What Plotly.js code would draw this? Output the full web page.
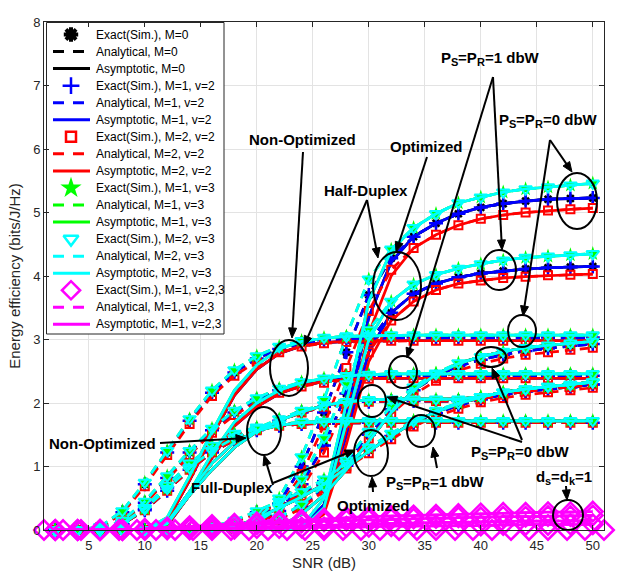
<!DOCTYPE html>
<html><head><meta charset="utf-8">
<script src="https://cdn.plot.ly/plotly-3.0.1.min.js"></script>
<style>body{margin:0;background:#fff}#chart{width:622px;height:579px}</style>
</head><body><div id="chart"></div>
<script>
// ---------------- DATA (energy efficiency in units of 1e-4 bits/J/Hz) ----------------
const SNR = [2,4,6,8,10,12,14,16,18,20,22,24,26,28,30,32,34,36,38,40,42,44,46,48,50];

// Half-Duplex, Optimized (upper family)
const hdOptA_top  = [0,0,0,0,0,0,0,0.02,0.06,0.18,0.5,1.15,2.05,3.05,3.95,4.42,4.76,4.98,5.15,5.24,5.32,5.37,5.40,5.43,5.46];
const hdOptA_blue = [0,0,0,0,0,0,0,0.01,0.05,0.15,0.42,1.0,1.85,2.8,3.7,4.28,4.62,4.83,4.98,5.08,5.14,5.18,5.21,5.22,5.23];
const hdOptA_red  = [0,0,0,0,0,0,0,0.01,0.04,0.12,0.35,0.88,1.65,2.55,3.45,4.1,4.44,4.65,4.8,4.9,4.96,5.0,5.03,5.05,5.07];
const hdOptA_asTop  = [0,0,0,0,0,0,0,0,0,0,0,0.05,0.5,2.0,3.6,4.4,4.76,4.98,5.15,5.24,5.32,5.37,5.40,5.43,5.46];
const hdOptA_asBlue = [0,0,0,0,0,0,0,0,0,0,0,0.03,0.4,1.8,3.35,4.22,4.62,4.83,4.98,5.08,5.14,5.18,5.21,5.22,5.23];
const hdOptA_asRed  = [0,0,0,0,0,0,0,0,0,0,0,0.02,0.3,1.6,3.1,4.0,4.44,4.65,4.8,4.9,4.96,5.0,5.03,5.05,5.07];
// Half-Duplex, Optimized (lower family)
const hdOptB_top  = [0,0,0,0,0,0,0,0.01,0.04,0.12,0.35,0.8,1.45,2.3,3.15,3.6,3.87,4.02,4.12,4.19,4.25,4.29,4.31,4.33,4.35];
const hdOptB_blue = [0,0,0,0,0,0,0,0.01,0.03,0.1,0.3,0.72,1.33,2.15,2.95,3.42,3.72,3.88,3.98,4.04,4.08,4.11,4.13,4.14,4.15];
const hdOptB_red  = [0,0,0,0,0,0,0,0.01,0.03,0.09,0.27,0.65,1.22,2.0,2.8,3.3,3.6,3.78,3.88,3.93,3.97,3.99,4.01,4.02,4.03];
const hdOptB_asTop  = [0,0,0,0,0,0,0,0,0,0,0,0.02,0.35,1.7,3.0,3.6,3.87,4.02,4.12,4.19,4.25,4.29,4.31,4.33,4.35];
const hdOptB_asBlue = [0,0,0,0,0,0,0,0,0,0,0,0.02,0.3,1.5,2.8,3.42,3.72,3.88,3.98,4.04,4.08,4.11,4.13,4.14,4.15];
const hdOptB_asRed  = [0,0,0,0,0,0,0,0,0,0,0,0.01,0.25,1.35,2.65,3.3,3.6,3.78,3.88,3.93,3.97,3.99,4.01,4.02,4.03];
// Half-Duplex, Non-Optimized (two power levels)
const hdNon1_top  = [0,0,0.05,0.3,0.75,1.25,1.75,2.2,2.52,2.74,2.89,2.98,3.03,3.05,3.06,3.07,3.07,3.07,3.07,3.07,3.07,3.07,3.07,3.07,3.07];
const hdNon1_blue = [0,0,0.04,0.28,0.72,1.22,1.72,2.16,2.48,2.7,2.85,2.94,2.99,3.01,3.02,3.03,3.03,3.03,3.03,3.03,3.03,3.03,3.03,3.03,3.03];
const hdNon1_red  = [0,0,0.04,0.26,0.69,1.18,1.67,2.11,2.43,2.65,2.8,2.89,2.94,2.96,2.97,2.98,2.98,2.98,2.98,2.98,2.98,2.98,2.98,2.98,2.98];
const hdNon1_asTop = [0,0,0,0,0,0.2,0.85,1.55,2.2,2.6,2.85,2.97,3.02,3.05,3.06,3.07,3.07,3.07,3.07,3.07,3.07,3.07,3.07,3.07,3.07];
const hdNon1_asLow = [0,0,0,0,0,0.15,0.78,1.48,2.12,2.53,2.78,2.9,2.95,2.97,2.98,2.98,2.98,2.98,2.98,2.98,2.98,2.98,2.98,2.98,2.98];
const hdNon2_top  = [0,0,0.02,0.15,0.45,0.85,1.25,1.6,1.88,2.08,2.23,2.33,2.39,2.43,2.45,2.46,2.46,2.46,2.46,2.46,2.46,2.46,2.46,2.46,2.46];
const hdNon2_blue = [0,0,0.02,0.14,0.43,0.82,1.22,1.57,1.85,2.05,2.2,2.3,2.36,2.4,2.42,2.43,2.43,2.43,2.43,2.43,2.43,2.43,2.43,2.43,2.43];
const hdNon2_red  = [0,0,0.01,0.13,0.41,0.79,1.18,1.53,1.81,2.01,2.16,2.26,2.32,2.36,2.38,2.39,2.39,2.39,2.39,2.39,2.39,2.39,2.39,2.39,2.39];
const hdNon2_asTop = [0,0,0,0,0,0.1,0.6,1.2,1.7,2.0,2.2,2.32,2.39,2.43,2.45,2.46,2.46,2.46,2.46,2.46,2.46,2.46,2.46,2.46,2.46];
const hdNon2_asLow = [0,0,0,0,0,0.07,0.55,1.14,1.64,1.94,2.15,2.27,2.34,2.37,2.39,2.39,2.39,2.39,2.39,2.39,2.39,2.39,2.39,2.39,2.39];
// Full-Duplex, Non-Optimized (two power levels); the upper one joins the optimized curve near 38 dB
const fdNon1_top  = [0,0,0.01,0.1,0.33,0.65,0.98,1.25,1.45,1.6,1.75,1.88,1.97,2.02,2.05,2.06,2.06,2.06,2.06,2.1,2.17,2.22,2.26,2.29,2.33];
const fdNon1_low  = [0,0,0.01,0.09,0.31,0.62,0.95,1.22,1.42,1.57,1.72,1.85,1.94,1.99,2.02,2.03,2.03,2.03,2.03,2.06,2.13,2.18,2.22,2.25,2.29];
const fdNon1_as   = [0,0,0,0,0,0.1,0.55,0.95,1.3,1.55,1.72,1.86,1.96,2.02,2.05,2.06,2.06,2.06,2.06,2.1,2.17,2.22,2.26,2.29,2.33];
const fdNon2_top  = [0,0,0.01,0.1,0.35,0.7,1.05,1.33,1.52,1.62,1.67,1.70,1.71,1.72,1.72,1.72,1.72,1.72,1.72,1.72,1.72,1.72,1.72,1.72,1.72];
const fdNon2_low  = [0,0,0.01,0.09,0.33,0.67,1.02,1.3,1.49,1.59,1.64,1.67,1.68,1.69,1.69,1.69,1.69,1.69,1.69,1.69,1.69,1.69,1.69,1.69,1.69];
const fdNon2_as   = [0,0,0,0,0,0.12,0.6,1.05,1.38,1.56,1.65,1.69,1.71,1.72,1.72,1.72,1.72,1.72,1.72,1.72,1.72,1.72,1.72,1.72,1.72];
// Full-Duplex, Optimized (two power levels)
const fdOpt1_top  = [0,0,0,0,0,0,0,0,0.02,0.08,0.2,0.4,0.7,1.1,1.55,1.95,2.25,2.47,2.63,2.73,2.81,2.87,2.91,2.94,2.97];
const fdOpt1_blue = [0,0,0,0,0,0,0,0,0.02,0.07,0.18,0.37,0.66,1.05,1.5,1.9,2.2,2.42,2.58,2.68,2.76,2.82,2.86,2.9,2.93];
const fdOpt1_red  = [0,0,0,0,0,0,0,0,0.01,0.06,0.16,0.34,0.62,1.0,1.44,1.83,2.13,2.35,2.51,2.62,2.7,2.76,2.8,2.84,2.87];
const fdOpt1_as   = [0,0,0,0,0,0,0,0,0,0,0.05,0.25,0.55,0.95,1.4,1.85,2.2,2.45,2.62,2.73,2.81,2.87,2.91,2.94,2.97];
const fdOpt2_top  = [0,0,0,0,0,0,0,0.05,0.15,0.3,0.45,0.6,0.8,1.05,1.3,1.52,1.72,1.88,2.0,2.1,2.17,2.22,2.26,2.29,2.33];
const fdOpt2_blue = [0,0,0,0,0,0,0,0.04,0.13,0.28,0.42,0.57,0.77,1.01,1.26,1.48,1.68,1.84,1.96,2.06,2.13,2.18,2.22,2.25,2.29];
const fdOpt2_red  = [0,0,0,0,0,0,0,0.04,0.12,0.26,0.4,0.54,0.73,0.97,1.21,1.43,1.63,1.79,1.91,2.01,2.08,2.13,2.17,2.2,2.24];
const fdOpt2_as   = [0,0,0,0,0,0,0,0,0.05,0.18,0.35,0.52,0.72,0.98,1.24,1.48,1.7,1.86,1.99,2.09,2.17,2.22,2.26,2.29,2.33];
// M=1, v=2,3 (d_s=d_k=1): close to zero
const magSNR   = [1,2.7,4.3,6,7.7,9.3,11,12.7,14.3,16,17.7,19.3,21,22.7,24.3,26,27.7,29.3,31,32.7,34.3,36,37.7,39.3,41,42.7,44.3,46,47.7,49.3,51];
const magExact = [0,0,0,0,0,0,0,0,0,0,0,0,0,0,0,0,0,0,0,0,0,0,0,0,0,0,0,0,0,0,0];
const magHigh  = [0,0,0,0,0.02,0.04,0.06,0.08,0.1,0.12,0.14,0.16,0.18,0.2,0.21,0.22,0.23,0.24,0.25,0.26,0.27,0.27,0.28,0.28,0.29];
const magMid1  = [0,0,0,0,0.01,0.03,0.05,0.06,0.08,0.09,0.11,0.12,0.14,0.15,0.16,0.17,0.18,0.19,0.2,0.2,0.21,0.21,0.22,0.22,0.23];
const magMid2  = [0,0,0,0,0,0.01,0.02,0.03,0.04,0.05,0.06,0.07,0.08,0.09,0.1,0.11,0.11,0.12,0.12,0.13,0.13,0.14,0.14,0.15,0.15];
const magLow   = [0,0,0,0,0,0.01,0.01,0.02,0.02,0.03,0.03,0.04,0.04,0.05,0.05,0.06,0.06,0.07,0.07,0.07,0.08,0.08,0.08,0.09,0.09];

const legendLabels = ['Exact(Sim.), M=0','Analytical, M=0','Asymptotic, M=0',
 'Exact(Sim.), M=1, v=2','Analytical, M=1, v=2','Asymptotic, M=1, v=2',
 'Exact(Sim.), M=2, v=2','Analytical, M=2, v=2','Asymptotic, M=2, v=2',
 'Exact(Sim.), M=1, v=3','Analytical, M=1, v=3','Asymptotic, M=1, v=3',
 'Exact(Sim.), M=2, v=3','Analytical, M=2, v=3','Asymptotic, M=2, v=3',
 'Exact(Sim.), M=1, v=2,3','Analytical, M=1, v=2,3','Asymptotic, M=1, v=2,3'];
const xTicks = [5,10,15,20,25,30,35,40,45,50];
const yTicks = [0,1,2,3,4,5,6,7,8];

// ---------------- STYLE ----------------
const FONT = '"Liberation Sans", Arial, Helvetica, sans-serif';
const families = [
 {top:hdOptA_top, blue:hdOptA_blue, red:hdOptA_red, asTop:hdOptA_asTop, asBlue:hdOptA_asBlue, asRed:hdOptA_asRed},
 {top:hdOptB_top, blue:hdOptB_blue, red:hdOptB_red, asTop:hdOptB_asTop, asBlue:hdOptB_asBlue, asRed:hdOptB_asRed},
 {top:hdNon1_top, blue:hdNon1_blue, red:hdNon1_red, asTop:hdNon1_asTop, asBlue:hdNon1_asLow, asRed:hdNon1_asLow},
 {top:hdNon2_top, blue:hdNon2_blue, red:hdNon2_red, asTop:hdNon2_asTop, asBlue:hdNon2_asLow, asRed:hdNon2_asLow},
 {top:fdNon1_top, blue:fdNon1_low, red:fdNon1_low, asTop:fdNon1_as, asBlue:fdNon1_as, asRed:fdNon1_as},
 {top:fdNon2_top, blue:fdNon2_low, red:fdNon2_low, asTop:fdNon2_as, asBlue:fdNon2_as, asRed:fdNon2_as},
 {top:fdOpt1_top, blue:fdOpt1_blue, red:fdOpt1_red, asTop:fdOpt1_as, asBlue:fdOpt1_as, asRed:fdOpt1_as},
 {top:fdOpt2_top, blue:fdOpt2_blue, red:fdOpt2_red, asTop:fdOpt2_as, asBlue:fdOpt2_as, asRed:fdOpt2_as}
];
const groups = [
 {key:'blue', asKey:'asBlue', color:'#000000', symbol:'asterisk-open', size:8, lw:2.5},
 {key:'blue', asKey:'asBlue', color:'#0000ff', symbol:'cross-thin-open', size:10, lw:2.5},
 {key:'red',  asKey:'asRed',  color:'#ff0000', symbol:'square-open', size:8, lw:2},
 {key:'top',  asKey:'asTop',  color:'#00ff00', symbol:'star', size:11, lw:0},
 {key:'top',  asKey:'asTop',  color:'#00ffff', symbol:'triangle-down-open', size:11, lw:2}
];
const LW = 2.7, DASH = '9px,6px';
const traces = [];
function lineT(x, y, color, dash){
  return {type:'scatter', mode:'lines', x:x, y:y, line:{color:color, width:LW, dash:dash},
          hoverinfo:'skip', showlegend:false};
}
function markT(x, y, g){
  return {type:'scatter', mode:'markers', x:x, y:y, cliponaxis:false, hoverinfo:'skip', showlegend:false,
          marker:{symbol:g.symbol, size:g.size, color:g.color, line:{color:g.color, width:g.lw}}};
}
groups.forEach(g => {
  families.forEach(f => traces.push(lineT(SNR, f[g.asKey], g.color, 'solid')));
  families.forEach(f => traces.push(lineT(SNR, f[g.key], g.color, DASH)));
  families.forEach(f => traces.push(markT(SNR, f[g.key], g)));
});
const magG = {color:'#ff00ff', symbol:'diamond-open', size:15, lw:2.5};
[magHigh, magMid1, magMid2, magLow].forEach(m => traces.push(lineT(SNR, m, '#ff00ff', 'solid')));
[magHigh, magMid1, magMid2, magLow].forEach(m => traces.push(lineT(SNR, m, '#ff00ff', DASH)));
[magLow, magMid1, magHigh].forEach(m => traces.push(markT(SNR, m, magG)));
traces.push(markT(magSNR, magExact, magG));

// ---------- custom legend drawn in pixel space (overlay axes x2/y2) ----------
traces.push({type:'scatter', mode:'lines', xaxis:'x2', yaxis:'y2', x:[46.5,224,224,46.5,46.5], y:[22.5,22.5,334,334,22.5],
  fill:'toself', fillcolor:'#ffffff', line:{color:'#262626', width:1}, hoverinfo:'skip', showlegend:false, cliponaxis:false});
const legStyles = [groups[0], groups[1], groups[2], groups[3], groups[4], magG];
const legSize = [12, 12, 10, 16, 13, 14];
const annotations = [];
legendLabels.forEach((lab, i) => {
  const yy = 34.5 + i*17.05;
  const g = legStyles[Math.floor(i/3)];
  const kind = i % 3;
  if (kind === 0) {
    traces.push({type:'scatter', mode:'markers', xaxis:'x2', yaxis:'y2', x:[71], y:[yy], cliponaxis:false, hoverinfo:'skip', showlegend:false,
      marker:{symbol:g.symbol, size:legSize[Math.floor(i/3)], color:g.color, line:{color:g.color, width: g.lw ? (i===0?4:2.5) : 0}}});
  } else {
    traces.push({type:'scatter', mode:'lines', xaxis:'x2', yaxis:'y2', x:[53,90], y:[yy,yy], cliponaxis:false, hoverinfo:'skip', showlegend:false,
      line:{color:g.color, width:3, dash: kind===1 ? '11px,9px' : 'solid'}});
  }
  annotations.push({xref:'x2', yref:'y2', x:94, y:yy, xanchor:'left', yanchor:'middle', showarrow:false,
    text:lab, font:{size:12, color:'#000000'}});
});

// ---------- text labels with hand-placed subscripts (pixel space) ----------
const ctx = document.createElement('canvas').getContext('2d');
function textW(t, size, weight){ ctx.font = weight + ' ' + size + 'px ' + FONT; return ctx.measureText(t).width; }
function rich(parts, x0, cy, size, subSize, weight, color){
  let x = x0;
  parts.forEach(p => {
    const isSub = p[1] === 'sub', isSup = p[1] === 'sup';
    const sz = (isSub || isSup) ? subSize : size;
    const dy = isSub ? size*0.33 : (isSup ? -size*0.4 : 0);
    annotations.push({xref:'x2', yref:'y2', x:x, y:cy+dy, xanchor:'left', yanchor:'middle', showarrow:false,
      text:p[0], borderpad:0, font:{size:sz, color:color, weight:weight}});
    x += textW(p[0], sz, weight);
  });
}
const ps1 = [['P',''],['S','sub'],['=P',''],['R','sub'],['=1 dbW','']];
const ps0 = [['P',''],['S','sub'],['=P',''],['R','sub'],['=0 dbW','']];
rich(ps1, 440, 57, 15, 11, 'bold', '#000000');
rich(ps0, 498, 119, 15, 11, 'bold', '#000000');
rich(ps1, 385, 481, 15, 11, 'bold', '#000000');
rich(ps0, 470, 451, 15, 11, 'bold', '#000000');
rich([['d',''],['s','sub'],['=d',''],['k','sub'],['=1','']], 535, 476, 15, 11, 'bold', '#000000');
rich([['×10',''],['-4','sup']], 47, 15, 13, 10, 'normal', '#262626');
const plainLabels = [
 ['Non-Optimized', 302, 139], ['Optimized', 426, 146], ['Half-Duplex', 366, 190],
 ['Non-Optimized', 102, 443], ['Full-Duplex', 232, 487], ['Optimized', 373, 505]
];
plainLabels.forEach(l => annotations.push({xref:'x2', yref:'y2', x:l[1], y:l[2], xanchor:'center', yanchor:'middle',
  showarrow:false, text:l[0], font:{size:15, color:'#000000', weight:'bold'}}));

const shapes = [];
// arrows: tail (x,y) -> head (x,y), in pixels
const arrows = [
 [493,77,407,358],[493,77,502,250],[550,140,572,172],[550,140,523,316],
 [303,152,292,338],[427,157,396,252],[367,200,304,346],[367,200,378,258],
 [522,442,387,397],[522,440,492,368],[437,468,433,447],[373,492,372,477],
 [273,485,264,455],[273,483,355,450],[160,443,246,438],[566,486,567,500]
];
const HEAD_L = 10, HEAD_W = 4;
arrows.forEach(a => {
  const dx = a[2]-a[0], dy = a[3]-a[1], len = Math.hypot(dx, dy);
  const ux = dx/len, uy = dy/len, nx = -uy, ny = ux;
  const bx = a[2]-ux*HEAD_L, by = a[3]-uy*HEAD_L;
  shapes.push({type:'line', xref:'x2', yref:'y2', x0:a[0], y0:a[1], x1:bx+ux*2, y1:by+uy*2,
    line:{color:'#000000', width:2}, layer:'above'});
  shapes.push({type:'path', xref:'x2', yref:'y2', layer:'above', fillcolor:'#000000', line:{color:'#000000', width:1},
    path:'M'+a[2]+','+a[3]+' L'+(bx+nx*HEAD_W)+','+(by+ny*HEAD_W)+' L'+(bx-nx*HEAD_W)+','+(by-ny*HEAD_W)+' Z'});
});
const ellipses = [
 [397,286,24,34],[577,201,20,28],[499,270,17,20],[289,368,19,28],[522,331,14,16],[491,357,15,10],
 [403,372,14,16],[372,401,14,16],[421,431,14,16],[371,453,17,23],[264,431,17,24],[568,515,15,15]
];
ellipses.forEach(e => shapes.push({type:'circle', xref:'x2', yref:'y2', x0:e[0]-e[2], x1:e[0]+e[2], y0:e[1]-e[3], y1:e[1]+e[3],
  line:{color:'#000000', width:2}, layer:'above'}));

const axCommon = {showline:true, linecolor:'#262626', linewidth:1, mirror:'ticks', ticks:'inside', ticklen:5,
  tickcolor:'#262626', showgrid:true, gridcolor:'#e3e3e3', gridwidth:1, zeroline:false,
  tickfont:{size:13, color:'#262626'}};
const layout = {
  width:622, height:579, margin:{l:44, r:18, t:22, b:49}, paper_bgcolor:'#ffffff', plot_bgcolor:'#ffffff',
  font:{family:FONT},
  showlegend:false,
  xaxis:Object.assign({}, axCommon, {range:[1,51], tickvals:xTicks, ticktext:xTicks.map(String), ticklabelstandoff:3,
    title:{text:'SNR (dB)', font:{size:15, color:'#262626'}, standoff:5}}),
  yaxis:Object.assign({}, axCommon, {range:[0,8], tickvals:yTicks, ticktext:yTicks.map(String),
    title:{text:'Energy efficiency (bits/J/Hz)', font:{size:15, color:'#262626'}, standoff:8}}),
  xaxis2:{overlaying:'x', anchor:'y2', range:[44,604], visible:false, fixedrange:true},
  yaxis2:{overlaying:'y', anchor:'x2', range:[530,22], visible:false, fixedrange:true},
  annotations:annotations, shapes:shapes
};
Plotly.newPlot('chart', traces, layout, {staticPlot:true, displayModeBar:false});
</script></body></html>
